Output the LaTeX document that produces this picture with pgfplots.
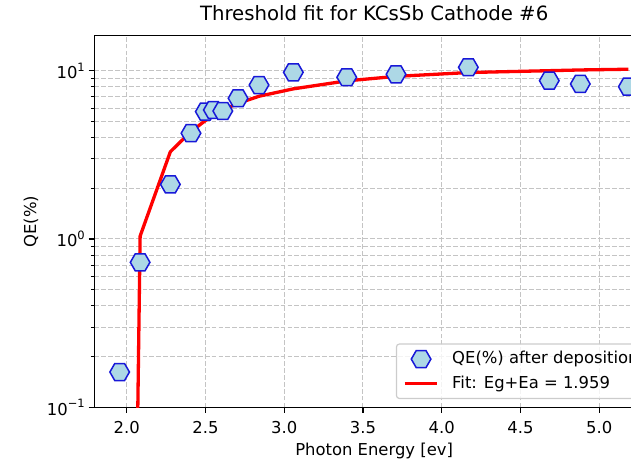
\documentclass[border=0pt]{standalone}
\usepackage{fontspec}
\setmainfont{DejaVu Sans}
\usepackage{pgfplots}
\usepackage{pgfplotstable}
\pgfplotsset{compat=1.18}

\definecolor{lightblue}{HTML}{ADD8E6}
\definecolor{markedge}{HTML}{1818D8}
\definecolor{gridgray}{HTML}{C4C4C4}
\definecolor{legframe}{HTML}{CCCCCC}

% flat-topped hexagon marker
\pgfdeclareplotmark{hexflat}{%
  \pgfpathmoveto{\pgfpointpolar{0}{\pgfplotmarksize}}%
  \pgfpathlineto{\pgfpointpolar{60}{\pgfplotmarksize}}%
  \pgfpathlineto{\pgfpointpolar{120}{\pgfplotmarksize}}%
  \pgfpathlineto{\pgfpointpolar{180}{\pgfplotmarksize}}%
  \pgfpathlineto{\pgfpointpolar{240}{\pgfplotmarksize}}%
  \pgfpathlineto{\pgfpointpolar{300}{\pgfplotmarksize}}%
  \pgfpathclose
  \pgfusepathqfillstroke
}

% legend handles: one marker centred in a 32.8bp slot, or a 32.8bp line
\pgfplotsset{
  hexlegend/.style={legend image code/.code={%
    \path (0bp,0bp) (32.8bp,0bp);
    \draw[mark repeat=2, mark phase=2, fill opacity=1, ##1]
      plot coordinates {(0bp,0bp) (16.4bp,0bp) (32.8bp,0bp)};}},
  linelegend/.style={legend image code/.code={%
    \draw[##1] (0bp,0bp) -- (32.8bp,0bp);}},
  gridline/.style={gridgray, line width=1bp, dash pattern=on 4.8bp off 2.1bp},
}

\newcommand{\ten}[1]{10\raisebox{0.45em}{\fontsize{11.5bp}{12bp}\selectfont #1}}

% measured quantum efficiency
\pgfplotstableread{
E      QE
1.955  0.162
2.085  0.727
2.277  2.11
2.408  4.25
2.499  5.71
2.550  5.84
2.610  5.76
2.707  6.86
2.840  8.22
3.058  9.78
3.397  9.14
3.710  9.52
4.169  10.48
4.683  8.72
4.880  8.34
5.185  8.03
}\qedata

% threshold fit evaluated at the measured energies
\pgfplotstableread{
E      QE
1.955  1e-9
2.085  1.04
2.277  3.30
2.408  4.35
2.499  5.05
2.550  5.45
2.610  5.85
2.707  6.40
2.840  7.05
3.058  7.80
3.397  8.70
3.710  9.25
4.169  9.75
4.683  10.00
4.880  10.10
5.185  10.20
}\fitdata

\begin{document}
\begin{tikzpicture}
\path[use as bounding box] (-94.3bp,-54.7bp) rectangle (536.7bp,407.3bp);
\clip (-94.3bp,-54.7bp) rectangle (536.7bp,407.3bp);
\begin{axis}[
  at={(0,0)}, anchor=south west,
  scale only axis, width=559.7bp, height=371.6bp,
  xmin=1.794, xmax=5.348,
  ymode=log, ymin=0.1, ymax=16.14,
  xtick={2,2.5,3,3.5,4,4.5,5},
  xticklabels={2.0,2.5,3.0,3.5,4.0,4.5,5.0},
  ytick={0.1,1,10},
  yticklabels={\ten{−1},\ten{0},\ten{1}},
  minor ytick={0.2,0.3,0.4,0.5,0.6,0.7,0.8,0.9,2,3,4,5,6,7,8,9},
  grid=both,
  major grid style={gridline},
  minor grid style={gridline},
  tick align=outside,
  xtick pos=lower, ytick pos=left,
  major tick length=5.7bp, minor tick length=3.3bp,
  every tick/.style={black, line width=1.3bp},
  every minor tick/.append style={line width=1bp},
  axis line style={black, line width=1.3bp},
  every tick label/.append style={font=\fontsize{16.4bp}{19.7bp}\selectfont},
  xticklabel style={anchor=north, inner sep=0pt},
  yticklabel style={anchor=east, inner sep=0pt},
  xticklabel shift=8.5bp,
  yticklabel shift=3.6bp,
  title={Threshold fit for KCsSb Cathode \#6},
  title style={font=\fontsize{19.7bp}{23bp}\selectfont, at={(axis description cs:0.5,1)}, anchor=base, yshift=9.2bp},
  xlabel={Photon Energy [ev]},
  xlabel style={font=\fontsize{16.4bp}{19.7bp}\selectfont, at={(axis description cs:0.5,0)}, anchor=base, yshift=-47.7bp},
  ylabel={QE(\%)},
  ylabel style={font=\fontsize{16.4bp}{19.7bp}\selectfont, at={(axis description cs:-0.1131,0.5)}, anchor=center},
  legend cell align=left,
  legend style={
    at={(axis description cs:0.9853,0.0221)}, anchor=south east,
    draw=legframe, line width=1.2bp, rounded corners=3bp,
    fill=white, fill opacity=0.8, text opacity=1,
    font=\fontsize{16.4bp}{19.7bp}\selectfont,
    inner xsep=6.6bp, inner ysep=6.6bp,
    column sep=13.1bp, row sep=8.2bp,
    nodes={inner sep=0pt, text height=12.3bp, text depth=3.8bp},
  },
]
\addplot[only marks, mark=hexflat, mark size=9.8bp,
  mark options={fill=lightblue, draw=markedge, line width=1.5bp},
  hexlegend] table[x=E, y=QE] {\qedata};
\addlegendentry{QE(\%) after deposition}

\addplot[red, line width=3.3bp, line join=round, linelegend]
  table[x=E, y=QE] {\fitdata};
\addlegendentry{Fit: Eg+Ea = 1.959}
\end{axis}
\end{tikzpicture}
\end{document}
